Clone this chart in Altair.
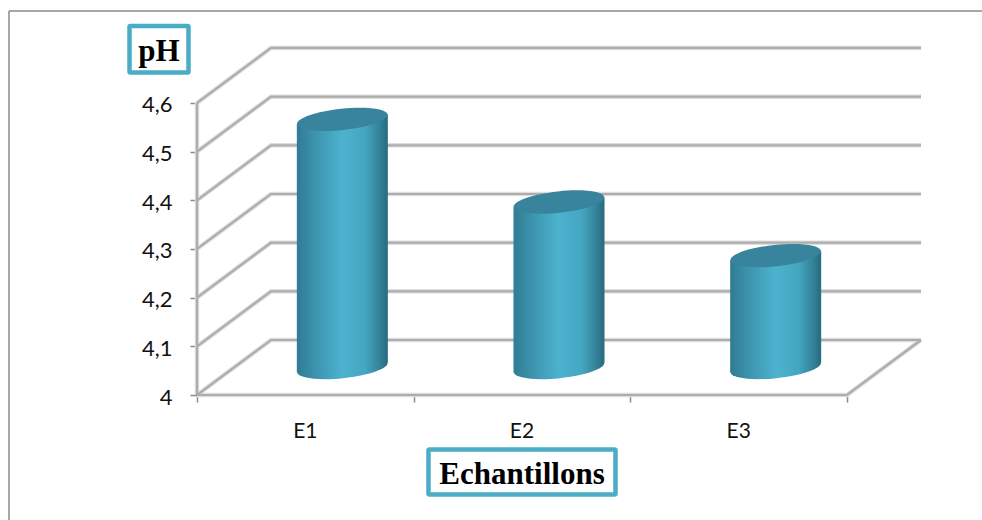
import altair as alt
import pandas as pd

# Chart values
categories = ["E1", "E2", "E3"]
ph_values = [4.51, 4.34, 4.23]
tick_values = [4.0, 4.1, 4.2, 4.3, 4.4, 4.5, 4.6]

# Pseudo-3D box: how far the back wall sits from the front plane, in axis units
DEPTH_X = 0.3415
DEPTH_Y = 0.113
BASE = 4.0
N = len(categories)
HALF_W = 0.21       # half a cylinder's width, in category units
TILT = 0.0098       # vertical drop of the ellipse tips, in pH units
CYL_SIZE = 8280     # symbol size giving the cylinder's width in pixels

TEAL = "#4bacc6"
TOP_COLOR = "#38849c"
GRID = "#adadad"
EDGE = "#8a8a8a"
ELLIPSE = "M-1,0A1,0.235,0,1,1,1,0A1,0.235,0,1,1,-1,0Z"

body_gradient = alt.Gradient(
    gradient="linear", x1=0, x2=1, y1=0, y2=0,
    stops=[
        alt.GradientStop(color="#2f7c94", offset=0),
        alt.GradientStop(color="#3d93ad", offset=0.2),
        alt.GradientStop(color="#4cb3cf", offset=0.5),
        alt.GradientStop(color="#44a6c1", offset=0.75),
        alt.GradientStop(color="#35849c", offset=0.9),
        alt.GradientStop(color="#286a7e", offset=1),
    ],
)

x_scale = alt.Scale(domain=[0, N + DEPTH_X], nice=False, zero=False)
y_scale = alt.Scale(domain=[BASE, 4.6 + DEPTH_Y + 0.002], nice=False, zero=False)

# The same axis definitions go on every layer so that they merge into one
x_axis = alt.Axis(
    values=list(range(N + 1)), labels=False, title=None, domain=False, grid=False,
    tickSize=7, tickColor=EDGE, tickWidth=1.5,
)
y_axis = alt.Axis(
    values=tick_values, title=None, domain=False, grid=False,
    tickSize=7, tickColor=EDGE, tickWidth=1.5, labelPadding=18, labelOffset=2,
    format=".1~f", labelExpr="replace(datum.label, '.', ',')",
    labelFont="Lato", labelFontSize=22, labelColor="#111111",
)


def X(field):
    return alt.X(field, type="quantitative", scale=x_scale, axis=x_axis)


def Y(field):
    return alt.Y(field, type="quantitative", scale=y_scale, axis=y_axis)


# Wall and floor lines: up the side wall, then across the back wall
grid_rows = []
for v in tick_values:
    grid_rows += [
        {"line": v, "order": 0, "x": 0, "y": v},
        {"line": v, "order": 1, "x": DEPTH_X, "y": v + DEPTH_Y},
        {"line": v, "order": 2, "x": N + DEPTH_X, "y": v + DEPTH_Y},
    ]
# Front edge of the floor, its right edge and the vertical axis line
grid_rows += [
    {"line": 10, "order": 0, "x": 0, "y": BASE},
    {"line": 10, "order": 1, "x": N, "y": BASE},
    {"line": 10, "order": 2, "x": N + DEPTH_X, "y": BASE + DEPTH_Y},
    {"line": 11, "order": 0, "x": 0, "y": BASE},
    {"line": 11, "order": 1, "x": 0, "y": tick_values[-1]},
]
grid_df = pd.DataFrame(grid_rows)

# Cylinders stand halfway into the box, so both their ends sit half the depth higher
lift = DEPTH_Y / 2
cyl_base = BASE + lift
centers = [i + 0.5 + DEPTH_X / 2 for i in range(N)]
cyl_df = pd.DataFrame({
    "cat": categories,
    "x": centers,
    "ph": ph_values,
    "top": [v + lift for v in ph_values],
    "base": cyl_base,
})

side_rows = []
for c, name, v in zip(centers, categories, ph_values):
    side_rows += [
        {"cat": name, "x": c - HALF_W, "top": v + lift - TILT, "bottom": cyl_base - TILT},
        {"cat": name, "x": c + HALF_W, "top": v + lift + TILT, "bottom": cyl_base + TILT},
    ]
side_df = pd.DataFrame(side_rows)

label_df = pd.DataFrame({"cat": categories, "x": [i + 0.5 for i in range(N)], "y": BASE})

grid_halo = alt.Chart(grid_df).mark_line(color="#dedede", strokeWidth=4.5, strokeJoin="miter").encode(
    x=X("x"), y=Y("y"), detail="line:N", order="order:Q"
)
grid_core = alt.Chart(grid_df).mark_line(color=GRID, strokeWidth=2.2, strokeJoin="miter").encode(
    x=X("x"), y=Y("y"), detail="line:N", order="order:Q"
)

bottoms = alt.Chart(cyl_df).mark_point(
    shape=ELLIPSE, size=CYL_SIZE, filled=True, opacity=1, fill=body_gradient, strokeWidth=0, angle=354
).encode(x=X("x"), y=Y("base"))

sides = alt.Chart(side_df).mark_area(fill=body_gradient, opacity=1).encode(
    x=X("x"), y=Y("top"), y2="bottom:Q", detail="cat:N"
)

tops = alt.Chart(cyl_df).mark_point(
    shape=ELLIPSE, size=CYL_SIZE, filled=True, opacity=1, fill=TOP_COLOR, strokeWidth=0, angle=354
).encode(x=X("x"), y=Y("top"))

cat_labels = alt.Chart(label_df).mark_text(
    font="Lato", fontSize=21, color="#111111", dy=37
).encode(x=X("x"), y=Y("y"), text="cat:N")


def frame_line(**enc):
    return alt.Chart(pd.DataFrame({"k": [0]})).mark_rule(color=EDGE, strokeWidth=1.5).encode(**enc)


frame_top = frame_line(x=alt.value(-188), x2=alt.value(785), y=alt.value(-36))
frame_left = frame_line(x=alt.value(-188), y=alt.value(-36), y2=alt.value(473))


def title_box(text, x0, x1, y0, y1, size):
    df = pd.DataFrame({"label": [text]})
    box = alt.Chart(df).mark_rect(
        fill="white", stroke=TEAL, strokeWidth=4.5, cornerRadius=1
    ).encode(x=alt.value(x0), x2=alt.value(x1), y=alt.value(y0), y2=alt.value(y1))
    txt = alt.Chart(df).mark_text(
        font="Liberation Serif", fontWeight="bold", fontSize=size, color="black", baseline="middle"
    ).encode(x=alt.value((x0 + x1) / 2), y=alt.value((y0 + y1) / 2 + 3), text="label:N")
    return box + txt


chart = alt.layer(
    frame_top, frame_left, grid_halo, grid_core,
    bottoms, sides, tops, cat_labels,
    title_box("pH", -67.5, -8.5, -21, 25.5, 31),
    title_box("Echantillons", 231.5, 418.5, 402.5, 447.5, 31),
).properties(
    width=724,
    height=348,
    padding={"left": 197, "top": 47, "right": 61, "bottom": 125},
    autosize=alt.AutoSizeParams(type="none"),
    background="white",
).configure_view(stroke=None)

chart.save("out.html", embed_options={"renderer": "svg", "actions": False})
